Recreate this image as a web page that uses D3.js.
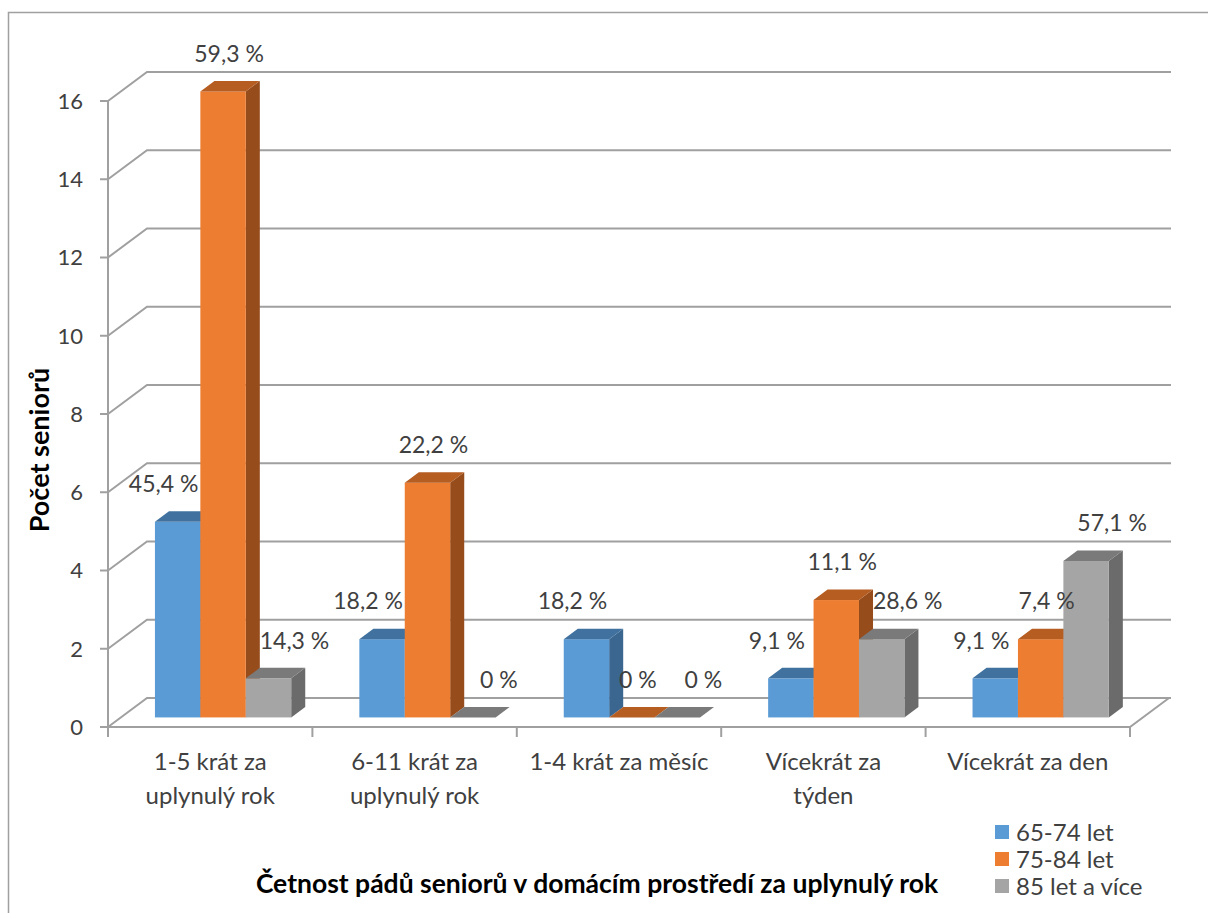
<!DOCTYPE html>
<html>
<head>
<meta charset="utf-8">
<script src="https://cdn.jsdelivr.net/npm/d3@7"></script>
<style>
  html, body { margin: 0; padding: 0; background: #ffffff; }
  svg { display: block; }
  text { font-family: Lato, "Open Sans", sans-serif; fill: #404040; }
</style>
</head>
<body>
<svg id="chart" width="1208" height="913"></svg>
<script>
// Falls of seniors at home over the past year, by age group
const categories = [
  ["1-5 krát za", "uplynulý rok"],
  ["6-11 krát za", "uplynulý rok"],
  ["1-4 krát za měsíc"],
  ["Vícekrát za", "týden"],
  ["Vícekrát za den"]
];
const seriesNames = ["65-74 let", "75-84 let", "85 let a více"];
const valuesA = [5, 2, 2, 1, 1];      // 65-74 let
const valuesB = [16, 6, 0, 3, 2];     // 75-84 let
const valuesC = [1, 0, 0, 2, 4];      // 85 let a více
const labelsA = ["45,4 %", "18,2 %", "18,2 %", "9,1 %", "9,1 %"];
const labelsB = ["59,3 %", "22,2 %", "0 %", "11,1 %", "7,4 %"];
const labelsC = ["14,3 %", "0 %", "0 %", "28,6 %", "57,1 %"];
const yTicks = [0, 2, 4, 6, 8, 10, 12, 14, 16];

const series = [
  { name: seriesNames[0], values: valuesA, labels: labelsA,
    front: "#5b9bd5", top: "#41729f", side: "#3b6690", labelDx: -14 },
  { name: seriesNames[1], values: valuesB, labels: labelsB,
    front: "#ed7d31", top: "#b65d22", side: "#974c1c", labelDx: 6 },
  { name: seriesNames[2], values: valuesC, labels: labelsC,
    front: "#a5a5a5", top: "#7a7a7a", side: "#6b6b6b", labelDx: 26 }
];

const svg = d3.select("#chart");

// outer chart frame
svg.append("rect")
  .attr("x", 8.5).attr("y", 12.5).attr("width", 1220).attr("height", 930)
  .attr("fill", "none").attr("stroke", "#a0a0a0").attr("stroke-width", 1.5);

// front plane of the 3D box
const x0 = 108, x1 = 1130;
const y = d3.scaleLinear().domain([0, 16]).range([727, 101]);
const depthX = 39, depthY = -29;           // shift from front plane to back wall
const off = t => [depthX * t, depthY * t]; // position at depth fraction t

const xCat = d3.scaleBand().domain(d3.range(categories.length)).range([x0, x1]);
const bw = xCat.bandwidth();
const xSer = d3.scaleBand().domain(d3.range(series.length))
  .range([bw / 6, bw * 5 / 6]);

const gridColor = "#a0a0a0";
const grid = svg.append("g").attr("stroke", gridColor).attr("stroke-width", 2)
  .attr("fill", "none");

// back wall gridlines and side wall diagonals
const [bx, by] = off(1);
yTicks.forEach(v => {
  const yf = y(v);
  grid.append("path")
    .attr("d", `M${x0},${yf}L${x0 + bx},${yf + by}L${x1 + bx + 2},${yf + by}`);
});
// floor outline
grid.append("path")
  .attr("d", `M${x0},${y(0)}L${x1},${y(0)}L${x1 + bx},${y(0) + by}`);

// value axis
const axisG = svg.append("g");
axisG.append("line")
  .attr("x1", x0).attr("x2", x0).attr("y1", y(16)).attr("y2", y(0) + 10)
  .attr("stroke", gridColor).attr("stroke-width", 2);
yTicks.forEach(v => {
  axisG.append("line")
    .attr("x1", x0 - 8).attr("x2", x0).attr("y1", y(v)).attr("y2", y(v))
    .attr("stroke", gridColor).attr("stroke-width", 2);
  axisG.append("text")
    .attr("x", 83).attr("y", y(v)).attr("dy", "0.36em")
    .attr("text-anchor", "end").attr("font-size", 22)
    .text(v);
});

// category ticks on the floor front edge
d3.range(categories.length + 1).forEach(i => {
  const xx = i < categories.length ? xCat(i) : x1;
  axisG.append("line")
    .attr("x1", xx).attr("x2", xx).attr("y1", y(0)).attr("y2", y(0) + 10)
    .attr("stroke", gridColor).attr("stroke-width", 2);
});

// category labels
categories.forEach((lines, i) => {
  const t = svg.append("text")
    .attr("x", xCat(i) + bw / 2).attr("y", 770)
    .attr("text-anchor", "middle").attr("font-size", 24);
  lines.forEach((ln, k) => {
    t.append("tspan").attr("x", xCat(i) + bw / 2).attr("dy", k === 0 ? 0 : 34).text(ln);
  });
});

// 3D bars: front face, top face and right side face
const tFront = 0.33, tBack = 0.69;
const [fdx, fdy] = off(tFront);
const [kdx, kdy] = off(tBack);
const bars = svg.append("g");
categories.forEach((c, i) => {
  series.forEach((s, j) => {
    const v = s.values[i];
    const left = xCat(i) + xSer(j) + fdx;
    const right = left + xSer.bandwidth();
    const bottom = y(0) + fdy;
    const top = y(v) + fdy;
    const ddx = kdx - fdx, ddy = kdy - fdy;
    const g = bars.append("g");
    if (v > 0) {
      g.append("path")
        .attr("d", `M${right},${bottom}L${right + ddx},${bottom + ddy}L${right + ddx},${top + ddy}L${right},${top}Z`)
        .attr("fill", s.side);
      g.append("rect")
        .attr("x", left).attr("y", top)
        .attr("width", right - left).attr("height", bottom - top)
        .attr("fill", s.front);
    }
    g.append("path")
      .attr("d", `M${left},${top}L${left + ddx},${top + ddy}L${right + ddx},${top + ddy}L${right},${top}Z`)
      .attr("fill", s.top);
  });
});

// value labels above bars
const labelsG = svg.append("g");
categories.forEach((c, i) => {
  series.forEach((s, j) => {
    const v = s.values[i];
    const cx = xCat(i) + xSer(j) + xSer.bandwidth() / 2 + fdx + s.labelDx;
    labelsG.append("text")
      .attr("x", cx).attr("y", y(v) + fdy - 38).attr("dy", "0.36em")
      .attr("text-anchor", "middle").attr("font-size", 23)
      .text(s.labels[i]);
  });
});

// axis titles
svg.append("text")
  .attr("transform", "translate(39,450) rotate(-90)")
  .attr("text-anchor", "middle").attr("dy", "0.36em")
  .attr("font-size", 27).attr("font-weight", "bold").style("fill", "#000")
  .text("Počet seniorů");
svg.append("text")
  .attr("x", 597).attr("y", 883).attr("dy", "0.36em")
  .attr("text-anchor", "middle")
  .attr("font-size", 26.5).attr("font-weight", "bold").style("fill", "#000")
  .text("Četnost pádů seniorů v domácím prostředí za uplynulý rok");

// legend
const legend = svg.append("g").attr("transform", "translate(995,832)");
series.forEach((s, j) => {
  const row = legend.append("g").attr("transform", `translate(0,${j * 27})`);
  row.append("rect").attr("x", 0).attr("y", -7).attr("width", 14).attr("height", 14)
    .attr("fill", s.front);
  row.append("text").attr("x", 21).attr("y", 0).attr("dy", "0.36em")
    .attr("font-size", 24).text(s.name);
});
</script>
</body>
</html>
